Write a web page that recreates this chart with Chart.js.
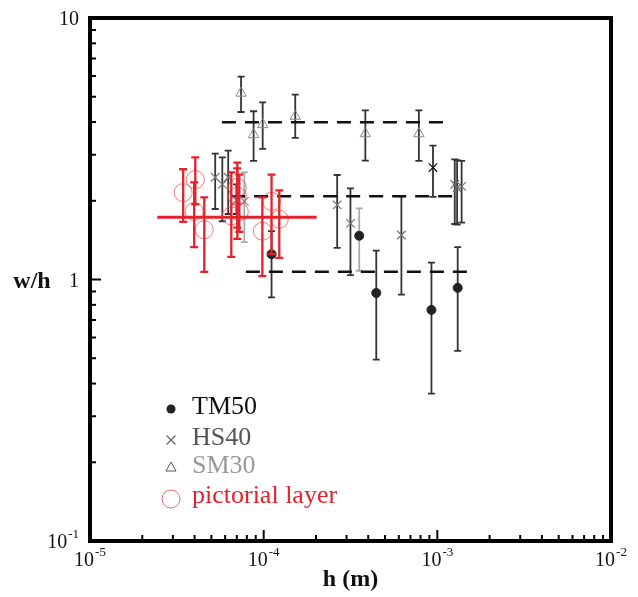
<!DOCTYPE html>
<html>
<head>
<meta charset="utf-8">
<script src="https://cdn.jsdelivr.net/npm/chart.js@4.4.0/dist/chart.umd.min.js"></script>
<style>
html, body { margin: 0; padding: 0; background: #fff; }
canvas { display: block; }
</style>
</head>
<body>
<canvas id="myChart" width="638" height="597"></canvas>
<script>
// TM50
var tmH  = [1.11e-4, 3.55e-4, 4.45e-4, 9.25e-4, 1.31e-3];
var tmW  = [1.25, 1.47, 0.888, 0.765, 0.929];
var tmHi = [1.53, 1.87, 1.29, 1.16, 1.33];
var tmLo = [0.855, 1.08, 0.494, 0.366, 0.533];

// HS40
var hsH  = [5.26e-5, 5.78e-5, 6.25e-5, 6.96e-5, 7.74e-5, 2.65e-4, 3.16e-4, 6.21e-4, 9.44e-4, 1.26e-3, 1.30e-3, 1.38e-3];
var hsW  = [2.46, 2.31, 2.46, 2.01, 1.99, 1.93, 1.64, 1.48, 2.68, 2.31, 2.24, 2.27];
var hsHi = [3.03, 2.93, 3.11, 2.31, 2.57, 2.51, 2.23, 2.08, 3.25, 2.88, 2.86, 2.84];
var hsLo = [1.86, 1.67, 1.78, 1.78, 1.39, 1.32, 1.04, 0.875, 2.07, 1.63, 1.62, 1.65];

// SM30
var smH  = [7.41e-5, 8.75e-5, 9.87e-5, 1.52e-4, 3.85e-4, 7.83e-4];
var smW  = [5.16, 3.58, 3.91, 4.21, 3.61, 3.61];
var smHi = [5.97, 4.40, 4.76, 5.09, 4.43, 4.43];
var smLo = [4.37, 2.84, 3.16, 3.48, 2.85, 2.84];

// pictorial layer
var pH  = [3.44e-5, 4.04e-5, 3.98e-5, 4.55e-5, 7.05e-5, 7.05e-5, 6.51e-5, 7.24e-5, 9.83e-5, 1.11e-4, 1.23e-4];
var pW  = [2.15, 2.41, 1.82, 1.55, 2.25, 2.08, 1.75, 1.82, 1.53, 1.99, 1.70];
var pHi = [2.64, 2.93, 2.35, 2.06, 2.80, 2.66, 2.57, 2.52, 2.06, 2.52, 2.19];
var pLo = [1.66, 1.94, 1.33, 1.07, 1.58, 1.43, 1.22, 1.52, 1.03, 1.25, 1.21];

// dashed mean levels and the red mean line
var levelW    = [3.99, 2.08, 1.07];
var levelFrom = [5.75e-5, 6.5e-5, 7.9e-5];
var levelTo   = [1.11e-3, 1.35e-3, 1.5e-3];
var pMeanW = 1.73;
var pMeanFrom = 2.44e-5, pMeanTo = 2.02e-4;

// ticks
var xTicks = [1e-5, 1e-4, 1e-3, 1e-2];
var xTickExp = ['-5', '-4', '-3', '-2'];
var yTicks = [0.1, 1, 10];
var yTickBase = ['10', '1', '10'];
var yTickExp = ['-1', '', ''];

var legendNames = ['TM50', 'HS40', 'SM30', 'pictorial layer'];

function pts(xs, ys) {
    return xs.map(function (x, i) { return { x: x, y: ys[i] }; });
}

var RED = '#e3222b';

var datasets = [];
levelW.forEach(function (w, i) {
    datasets.push({
        type: 'line',
        data: [{ x: levelFrom[i], y: w }, { x: levelTo[i], y: w }],
        borderColor: '#111',
        borderWidth: 2.5,
        borderDash: [14, 9],
        pointRadius: 0,
        order: 6
    });
});
datasets.push({
    label: 'SM30',
    data: pts(smH, smW),
    pointStyle: 'triangle',
    pointRadius: 6,
    backgroundColor: 'rgba(255,255,255,0)',
    borderColor: '#888',
    borderWidth: 1,
    order: 4,
    err: { hi: smHi, lo: smLo, color: '#333', width: 1.8, cap: 3.5, layer: 'back' }
});
datasets.push({
    label: 'HS40',
    data: pts(hsH, hsW),
    pointStyle: 'crossRot',
    pointRadius: 6,
    borderColor: ['#777', '#777', '#777', '#777', '#888', '#777', '#777', '#777', '#111', '#666', '#666', '#777'],
    borderWidth: 1.2,
    order: 4,
    err: { hi: hsHi, lo: hsLo, color: '#333', width: 1.8, cap: 3.5, layer: 'back',
           colors: ['#333', '#333', '#333', '#333', '#aaa', '#333', '#333', '#333', '#333', '#333', '#333', '#333'] }
});
datasets.push({
    label: 'TM50',
    data: pts(tmH, tmW),
    pointStyle: 'circle',
    pointRadius: 4.5,
    backgroundColor: '#222',
    borderColor: '#222',
    order: 3,
    err: { hi: tmHi, lo: tmLo, color: '#333', width: 1.8, cap: 3.5, layer: 'back',
           colors: ['#333', '#aaa', '#333', '#333', '#333'] }
});
datasets.push({
    label: 'pictorial layer',
    data: pts(pH, pW),
    pointStyle: 'circle',
    pointRadius: 9,
    backgroundColor: 'rgba(255,255,255,0)',
    borderColor: 'rgba(232,70,70,0.7)',
    borderWidth: 1,
    order: 2,
    err: { hi: pHi, lo: pLo, color: RED, width: 2.3, cap: 4, layer: 'front' }
});
datasets.push({
    type: 'line',
    data: [{ x: pMeanFrom, y: pMeanW }, { x: pMeanTo, y: pMeanW }],
    borderColor: RED,
    borderWidth: 3,
    pointRadius: 0,
    order: 1
});

var errorBars = {
    id: 'errorBars',
    drawBars: function (chart, layer) {
        var xs = chart.scales.x, ys = chart.scales.y, c = chart.ctx;
        chart.data.datasets.forEach(function (ds) {
            if (!ds.err || ds.err.layer !== layer) return;
            var e = ds.err;
            c.save();
            c.lineWidth = e.width;
            c.lineCap = 'butt';
            ds.data.forEach(function (p, i) {
                var px = xs.getPixelForValue(p.x);
                var top = ys.getPixelForValue(e.hi[i]);
                var bot = ys.getPixelForValue(e.lo[i]);
                c.strokeStyle = e.colors ? e.colors[i] : e.color;
                c.beginPath();
                c.moveTo(px, top); c.lineTo(px, bot);
                c.moveTo(px - e.cap, top); c.lineTo(px + e.cap, top);
                c.moveTo(px - e.cap, bot); c.lineTo(px + e.cap, bot);
                c.stroke();
            });
            c.restore();
        });
    },
    beforeDatasetsDraw: function (chart) { this.drawBars(chart, 'back'); },
    afterDatasetsDraw: function (chart) { this.drawBars(chart, 'front'); }
};

function power(c, base, exp, x, y, align) {
    c.font = '20px "Liberation Serif"';
    var bw = c.measureText(base).width;
    c.font = '13px "Liberation Serif"';
    var ew = exp ? c.measureText(exp).width + 1 : 0;
    var total = bw + ew;
    var left = align === 'right' ? x - total : x - total / 2;
    c.textAlign = 'left';
    c.textBaseline = 'middle';
    c.font = '20px "Liberation Serif"';
    c.fillText(base, left, y);
    if (exp) {
        c.font = '13px "Liberation Serif"';
        c.fillText(exp, left + bw + 1, y - 8);
    }
}

var frame = {
    id: 'frame',
    afterDraw: function (chart) {
        var c = chart.ctx, a = chart.chartArea;
        var xs = chart.scales.x, ys = chart.scales.y;
        c.save();
        c.strokeStyle = '#000';
        c.lineWidth = 2;
        // minor + major ticks, inward
        for (var d = -5; d < -2; d++) {
            for (var m = 1; m <= 9; m++) {
                var v = m * Math.pow(10, d);
                var px = xs.getPixelForValue(v);
                var len = m === 1 ? 11 : 6;
                c.beginPath(); c.moveTo(px, a.bottom); c.lineTo(px, a.bottom - len); c.stroke();
            }
        }
        for (var d2 = -1; d2 < 1; d2++) {
            for (var m2 = 1; m2 <= 9; m2++) {
                var v2 = m2 * Math.pow(10, d2);
                var py = ys.getPixelForValue(v2);
                var len2 = m2 === 1 ? 11 : 6;
                c.beginPath(); c.moveTo(a.left, py); c.lineTo(a.left + len2, py); c.stroke();
            }
        }
        c.lineWidth = 4;
        c.strokeRect(a.left, a.top, a.right - a.left, a.bottom - a.top);

        c.fillStyle = '#111';
        xTicks.forEach(function (t, i) {
            power(c, '10', xTickExp[i], xs.getPixelForValue(t), a.bottom + 20, 'center');
        });
        yTicks.forEach(function (t, i) {
            power(c, yTickBase[i], yTickExp[i], a.left - 11, ys.getPixelForValue(t) + 2, 'right');
        });

        c.font = 'bold 24px "Liberation Serif"';
        c.textAlign = 'center';
        c.textBaseline = 'middle';
        c.fillText('w/h', 32, 282);
        c.fillText('h (m)', (a.left + a.right) / 2, 580);

        // legend
        var lx = 171, tx = 192;
        var rows = [407, 438, 466, 496];
        var cols = ['#111', '#555', '#999', RED];
        c.font = '26px "Liberation Serif"';
        c.textAlign = 'left';
        legendNames.forEach(function (n, i) {
            c.fillStyle = cols[i];
            c.fillText(n, tx, rows[i]);
        });
        c.fillStyle = '#222';
        c.beginPath(); c.arc(lx, rows[0] + 2, 4.5, 0, Math.PI * 2); c.fill();
        c.strokeStyle = '#666'; c.lineWidth = 1.2;
        c.beginPath();
        c.moveTo(lx - 4.5, rows[1] - 2.5); c.lineTo(lx + 4.5, rows[1] + 6.5);
        c.moveTo(lx + 4.5, rows[1] - 2.5); c.lineTo(lx - 4.5, rows[1] + 6.5);
        c.stroke();
        c.strokeStyle = '#555'; c.lineWidth = 1;
        c.beginPath();
        c.moveTo(lx, rows[2] - 4); c.lineTo(lx + 5, rows[2] + 5); c.lineTo(lx - 5, rows[2] + 5); c.closePath();
        c.stroke();
        c.strokeStyle = 'rgba(232,70,70,0.8)';
        c.beginPath(); c.arc(lx, rows[3] + 3, 9, 0, Math.PI * 2); c.stroke();
        c.restore();
    }
};

var ctx = document.getElementById('myChart').getContext('2d');
var myChart = new Chart(ctx, {
    type: 'scatter',
    data: { datasets: datasets },
    options: {
        responsive: false,
        animation: false,
        layout: { padding: { left: 90, right: 27, top: 18, bottom: 56 } },
        plugins: { legend: { display: false }, tooltip: { enabled: false } },
        scales: {
            x: { type: 'logarithmic', min: 1e-5, max: 1e-2, display: false },
            y: { type: 'logarithmic', min: 0.1, max: 10, display: false }
        }
    },
    plugins: [errorBars, frame]
});
</script>
</body>
</html>
